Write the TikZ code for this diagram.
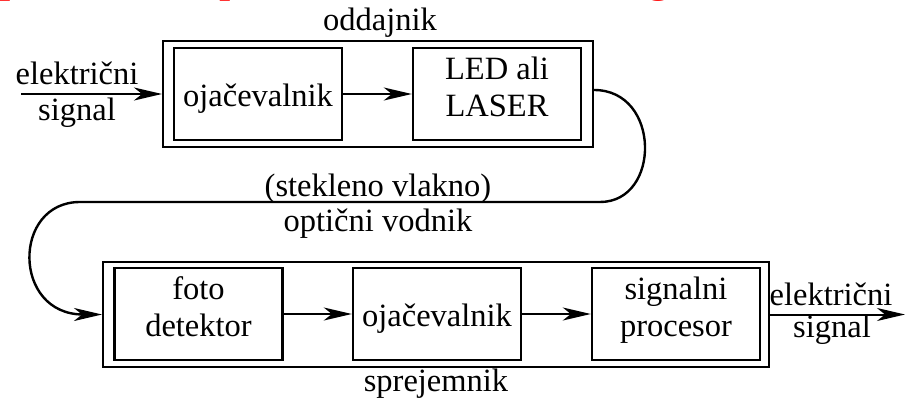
\documentclass[tikz,border=0pt]{standalone}
\usepackage{fontspec}
\setmainfont{Liberation Serif}
\newfontfamily\lser{Liberation Serif}
\usetikzlibrary{arrows.meta}
\newcommand\onel[1]{\rule{0pt}{25pt}\smash{#1}}
\newcommand\twol[2]{\rule[-30pt]{0pt}{30pt}\smash{\begin{tabular}[t]{@{}c@{}}#1\\#2\end{tabular}}}
\begin{document}
\begin{tikzpicture}[x=1pt,y=-1pt,
  every node/.style={font=\lser\fontsize{32.5}{37}\selectfont, inner sep=0pt},
  blk/.style={draw, line width=2.4pt, minimum width=168pt, minimum height=92pt},
  frame/.style={draw, line width=2pt},
  lbl/.style={anchor=base},
  arr/.style={line width=2pt, -{Stealth[length=28pt,width=13pt,inset=8pt]}},
  fiber/.style={line width=2.4pt, -{Stealth[length=28pt,width=13pt,inset=8pt]}}]
\useasboundingbox (0,0) rectangle (905,399);
\begin{scope}
  \clip (0,0) rectangle (905,399);
  \node[red, font=\lser\fontsize{46}{50}\selectfont, anchor=base west] (t1) at (-1,-9) {p};
  \node[red, font=\lser\fontsize{46}{50}\selectfont, anchor=base west] (t2) at (219,-9) {p};
  \node[red, font=\lser\fontsize{46}{50}\selectfont, anchor=base] (t3) at (659,-9) {g};
\end{scope}
% transmitter
\node[frame, minimum width=430pt, minimum height=106pt] (outer1) at (378,94) {};
\node[blk] (amp1) at (258,94) {\onel{ojačevalnik}};
\node[blk] (led) at (497,94) {\twol{LED ali}{LASER}};
\node[lbl] (odd) at (380,30) {oddajnik};
% receiver
\node[frame, minimum width=666pt, minimum height=105pt] (outer2) at (436,314.5) {};
\node[blk] (foto) at (198.5,314) {\twol{foto}{detektor}};
\node[blk] (amp2) at (437,314) {\onel{ojačevalnik}};
\node[blk] (sp) at (676,314) {\twol{signalni}{procesor}};
\node[lbl] (spr) at (436,391) {sprejemnik};
% input
\coordinate (inL) at (21,94);
\node[lbl] (el1) at (77,84) {električni};
\node[lbl] (sg1) at (77,120) {signal};
\draw[arr] (inL) -- (outer1.west);
\draw[arr] (amp1.east) -- (led.west);
% fibre
\node[lbl] (stek) at (378,196) {(stekleno vlakno)};
\node[lbl] (opt) at (378,231) {optični vodnik};
\draw[fiber] ([yshift=4pt]outer1.east) .. controls (661,90) and (661,202) .. (600,202) -- (80,202) .. controls (12,202) and (12,314.5) .. (outer2.west);
% receiver arrows
\draw[arr] (foto.east) -- (amp2.west);
\draw[arr] (amp2.east) -- (sp.west);
\coordinate (outR) at (905,314.5);
\draw[arr] (outer2.east) -- (outR);
\node[lbl] (el2) at (831,305) {električni};
\node[lbl] (sg2) at (832,337) {signal};
\end{tikzpicture}
\end{document}
